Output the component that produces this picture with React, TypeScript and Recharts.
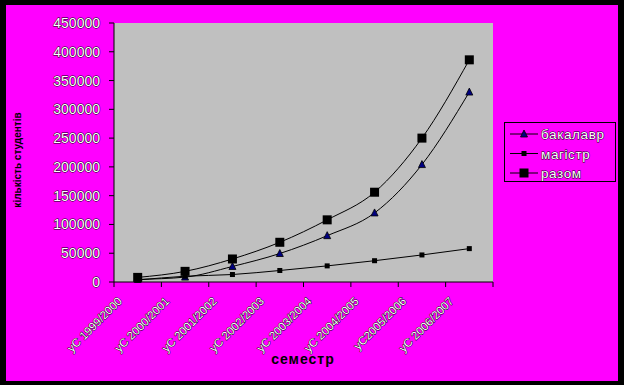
import React from 'react';
import { LineChart, Line, XAxis, YAxis, CartesianGrid } from 'recharts';

const categories = [
  'уС 1999/2000',
  'уС 2000/2001',
  'уС 2001/2002',
  'уС 2002/2003',
  'уС 2003/2004',
  'уС 2004/2005',
  'уС2005/2006',
  'уС 2006/2007',
];
const bachelor = [4500, 8500, 27000, 49500, 80500, 120000, 204000, 330000];
const master = [3500, 10000, 13000, 20000, 28000, 37000, 47000, 58000];
const total = [8000, 18500, 40000, 69000, 108000, 156000, 250000, 386000];
const yTicks = [0, 50000, 100000, 150000, 200000, 250000, 300000, 350000, 400000, 450000];
const gridValues = [50000, 100000, 150000, 200000, 250000, 300000, 350000, 400000];

const seriesNames = ['бакалавр', 'магістр', 'разом'];

const data = categories.map((c, i) => ({ name: c, b: bachelor[i], m: master[i], t: total[i] }));

const FONT = '"Liberation Sans", Arial, sans-serif';
const BAND = 379 / 8;

// white text with a thin dark edge, like the old Excel rendering
const outline = { fill: '#fff', stroke: '#000', strokeWidth: 0.9, paintOrder: 'stroke' as const };

const Triangle = (props: any) => {
  const { cx, cy } = props;
  if (cx == null || cy == null) return null;
  return <path d={`M${cx},${cy - 4} L${cx + 3.5},${cy + 3} L${cx - 3.5},${cy + 3} Z`} fill="#000080" stroke="#000" strokeWidth={0.8} />;
};

const Square = (size: number) => (props: any) => {
  const { cx, cy } = props;
  if (cx == null || cy == null) return null;
  return <rect x={cx - size / 2} y={cy - size / 2} width={size} height={size} fill="#000" />;
};

const XTick = (props: any) => {
  const { x, y, payload, index } = props;
  const tx = x - 15;
  const ty = y + 20;
  return (
    <g>
      <line x1={x - BAND / 2} y1={y} x2={x - BAND / 2} y2={y + 5} stroke="#000" />
      {index === categories.length - 1 && (
        <line x1={x + BAND / 2} y1={y} x2={x + BAND / 2} y2={y + 5} stroke="#000" />
      )}
      <text x={tx} y={ty} transform={`rotate(-45, ${tx}, ${ty})`} textAnchor="end" fontSize={11.5} fontFamily={FONT} {...outline}>
        {payload.value}
      </text>
    </g>
  );
};

const YTick = (props: any) => {
  const { x, y, payload } = props;
  return (
    <text x={x} y={y + 5} textAnchor="end" fontSize={14} fontFamily={FONT} {...outline}>
      {payload.value}
    </text>
  );
};

function LegendBox() {
  return (
    <svg width={112} height={60} style={{ position: 'absolute', left: 498, top: 117 }}>
      <rect x={0.5} y={0.5} width={111} height={59} fill="none" stroke="#000" />
      {seriesNames.map((n, i) => {
        const cy = 12 + i * 19.5;
        return (
          <g key={n}>
            <line x1={6} y1={cy} x2={34} y2={cy} stroke="#000" />
            {i === 0 && <path d={`M20,${cy - 4} L23.5,${cy + 3} L16.5,${cy + 3} Z`} fill="#000080" stroke="#000" strokeWidth={0.8} />}
            {i === 1 && <rect x={17.5} y={cy - 2.5} width={5} height={5} fill="#000" />}
            {i === 2 && <rect x={15.5} y={cy - 4.5} width={9} height={9} fill="#000" />}
            <text x={37} y={cy + 5} fontSize={13.5} fontFamily={FONT} letterSpacing={0.6} {...outline}>
              {n}
            </text>
          </g>
        );
      })}
    </svg>
  );
}

export default function App() {
  return (
    <div style={{ position: 'absolute', left: 0, top: 0, width: 624, height: 385, background: '#000' }}>
      <div style={{ position: 'absolute', left: 6, top: 5, width: 612, height: 376, background: '#FF00FF' }}>
        <LineChart width={612} height={376} data={data} margin={{ top: 18, right: 125, bottom: 14, left: 48 }}>
          <rect x={108} y={18} width={379} height={259} fill="#C0C0C0" />
          <CartesianGrid horizontal vertical={false} stroke="#000" strokeOpacity={1} horizontalValues={gridValues} />
          <XAxis
            dataKey="name"
            scale="band"
            interval={0}
            height={85}
            tickSize={0}
            tickMargin={0}
            tickLine={false}
            axisLine={{ stroke: '#000' }}
            tick={<XTick />}
          />
          <YAxis
            width={60}
            domain={[0, 450000]}
            ticks={yTicks}
            interval={0}
            tickSize={5}
            tickMargin={9}
            tickLine={{ stroke: '#000' }}
            axisLine={{ stroke: '#000' }}
            tick={<YTick />}
          />
          <Line type="monotone" dataKey="b" name={seriesNames[0]} stroke="#000" strokeWidth={1} dot={<Triangle />} isAnimationActive={false} />
          <Line type="monotone" dataKey="m" name={seriesNames[1]} stroke="#000" strokeWidth={1} dot={Square(5)} isAnimationActive={false} />
          <Line type="monotone" dataKey="t" name={seriesNames[2]} stroke="#000" strokeWidth={1} dot={Square(9)} isAnimationActive={false} />
          <text x={297} y={359} textAnchor="middle" fontSize={14} fontWeight="bold" fontFamily={FONT} fill="#000" letterSpacing={1}>
            семестр
          </text>
          <text x={15} y={155} transform="rotate(-90, 15, 155)" textAnchor="middle" fontSize={10} fontWeight="bold" fontFamily={FONT} fill="#000">
            кількість студентів
          </text>
        </LineChart>
        <LegendBox />
      </div>
    </div>
  );
}
